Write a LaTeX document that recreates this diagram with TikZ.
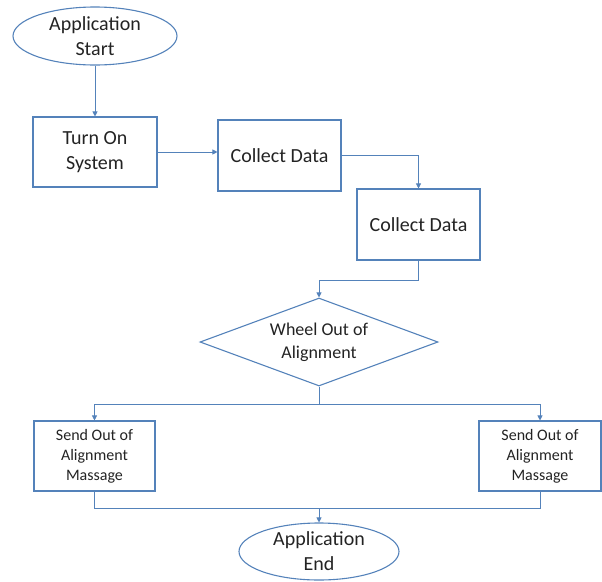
\documentclass[tikz,border=0pt]{standalone}
\usepackage{fontspec}
\setmainfont{Carlito}
\usetikzlibrary{shapes.geometric,arrows.meta}
\definecolor{lineblue}{RGB}{84,130,186}
\definecolor{txt}{RGB}{35,35,35}
\tikzset{
  base/.style={draw=lineblue, line width=1.1pt, text=txt, inner sep=0pt, align=center},
  oval/.style={base, ellipse, font=\fontsize{20}{25}\selectfont},
  bigbox/.style={base, rectangle, font=\fontsize{20}{25}\selectfont},
  smallbox/.style={base, rectangle, font=\fontsize{16}{20}\selectfont},
  decide/.style={base, diamond, aspect=2.7, font=\fontsize{18}{23}\selectfont},
  conn/.style={draw=lineblue, line width=0.8pt},
  arr/.style={conn, -{Triangle[width=5pt,length=5pt]}}
}
\begin{document}
\begin{tikzpicture}[x=1pt,y=-1pt]
\useasboundingbox (0,0) rectangle (602,581);
\node[oval, minimum width=164pt, minimum height=58pt] (start) at (95,36) {Application\\Start};
\node[bigbox, minimum width=124pt, minimum height=70pt] (turnon) at (95,152) {Turn On\\System};
\node[bigbox, minimum width=123pt, minimum height=71pt] (cd1) at (279.5,155.5) {Collect Data};
\node[bigbox, minimum width=123pt, minimum height=71pt] (cd2) at (418.5,224.5) {Collect Data};
\node[decide, minimum width=238pt, minimum height=88pt] (dia) at (319,342) {Wheel Out of\\Alignment};
\node[smallbox, minimum width=121pt, minimum height=70pt] (send1) at (94.5,456) {Send Out of\\Alignment\\Massage};
\node[smallbox, minimum width=122pt, minimum height=70pt] (send2) at (540,456) {Send Out of\\Alignment\\Massage};
\node[oval, minimum width=160pt, minimum height=57pt] (end) at (319,551.5) {Application\\End};
\coordinate (split) at (319,404);
\coordinate (join) at (319,508);
\coordinate (turn2) at (418.5,280);
\draw[arr] (start.south) -- (turnon.north);
\draw[arr] (turnon.east) -- (turnon.east -| cd1.west);
\draw[arr] (cd1.east) -| (cd2.north);
\draw[conn] (cd2.south) -- (turn2);
\draw[arr] (turn2) -| (dia.north);
\draw[conn] (dia.south) -- (split);
\draw[arr] (split) -| (send1.north);
\draw[arr] (split) -| (send2.north);
\draw[conn] (send1.south) |- (join);
\draw[conn] (send2.south) |- (join);
\draw[arr] (join) -- (end.north);
\end{tikzpicture}
\end{document}
